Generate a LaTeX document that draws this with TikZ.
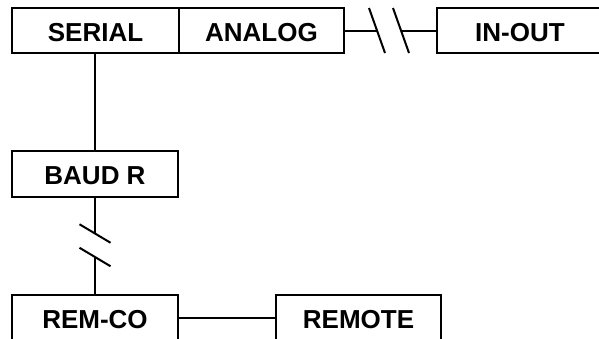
\documentclass[tikz,border=0pt]{standalone}
\usepackage{fontspec}
\setmainfont{Liberation Sans}
\usetikzlibrary{calc}
\begin{document}
\begin{tikzpicture}[x=1pt,y=-1pt,
  blk/.style={draw=black, line width=2pt, minimum height=45pt, inner sep=0pt,
    font=\fontsize{26}{28}\selectfont\bfseries, text height=21.6pt, text depth=0pt},
  wire/.style={draw=black, line width=2pt}]
\useasboundingbox (0,0) rectangle (599,338);
\clip (0,0) rectangle (599,338);
\node[blk, minimum width=167pt] (serial) at (95.5,30.5) {SERIAL};
\node[blk, minimum width=165pt] (analog) at (261.5,30.5) {ANALOG};
\node[blk, minimum width=166pt] (inout) at (520,30.5) {IN-OUT};
\node[blk, minimum width=166pt, minimum height=46pt] (baud) at (95,174) {BAUD R};
\node[blk, minimum width=166pt, minimum height=46pt] (remco) at (95,318) {REM-CO};
\node[blk, minimum width=165pt, minimum height=46pt] (remote) at (358.5,318) {REMOTE};
% serial to baud
\draw[wire] (baud.north) -- (baud.north |- serial.south);
% analog to in-out with break
\coordinate (h1) at (377,30.5);
\coordinate (h2) at (401,30.5);
\draw[wire] (analog.east) -- (h1);
\draw[wire] (h2) -- (inout.west);
\draw[wire] ($(h1)+(-8,-22.5)$) -- ($(h1)+(8,22.5)$);
\draw[wire] ($(h2)+(-8,-22.5)$) -- ($(h2)+(8,22.5)$);
% baud to rem-co with break
\coordinate (v1) at (95,233.5);
\coordinate (v2) at (95,257);
\draw[wire] (baud.south) -- (v1);
\draw[wire] (v2) -- (remco.north);
\draw[wire] ($(v1)+(-15.5,-9.25)$) -- ($(v1)+(15.5,9.25)$);
\draw[wire] ($(v2)+(-15.5,-9.25)$) -- ($(v2)+(15.5,9.25)$);
% rem-co to remote
\draw[wire] (remco.east) -- (remote.west);
\end{tikzpicture}
\end{document}
